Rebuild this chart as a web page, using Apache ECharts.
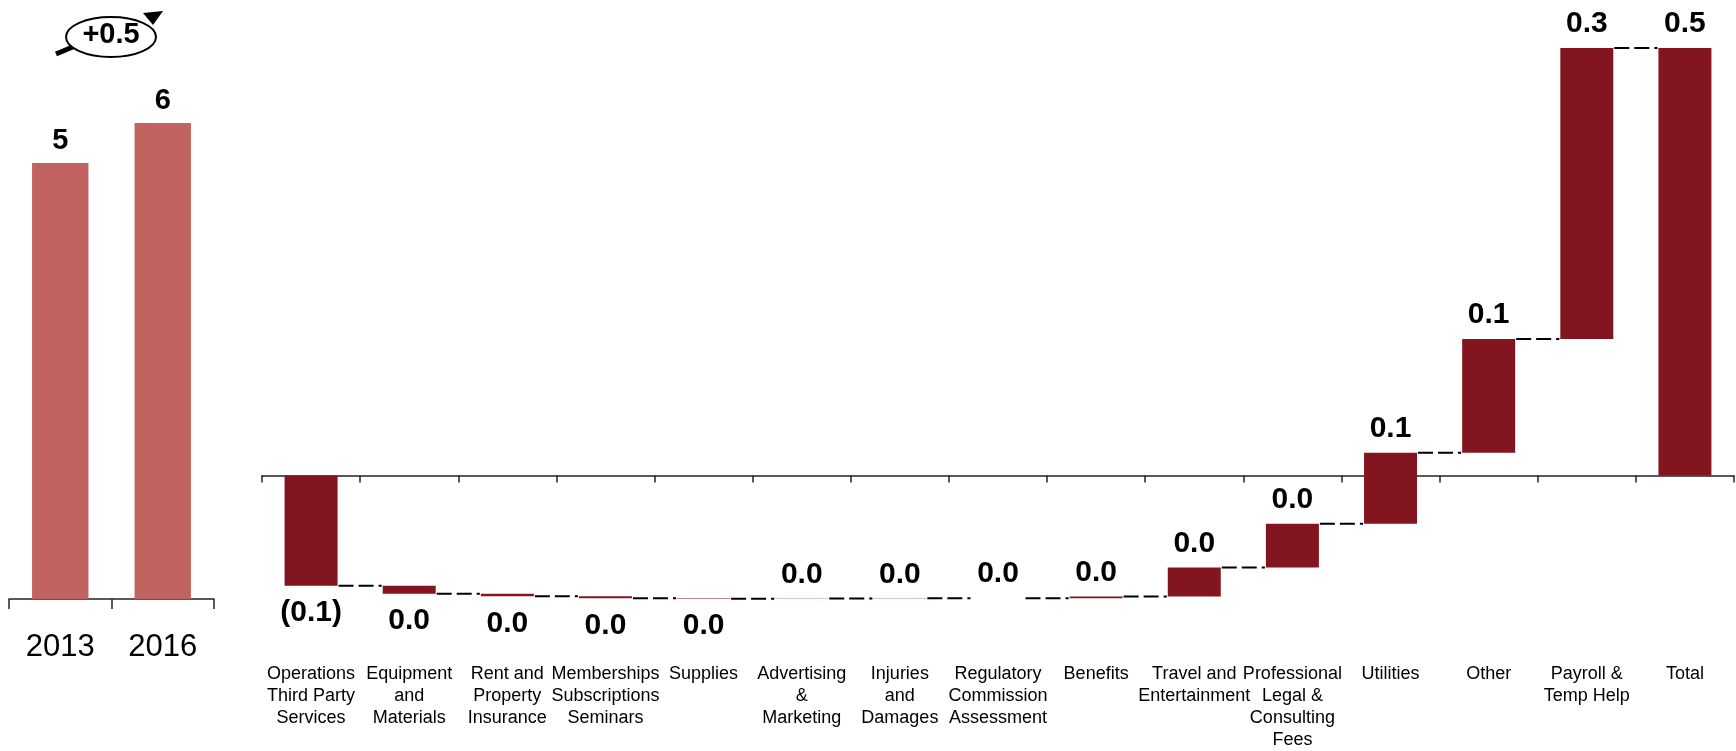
<!DOCTYPE html>
<html>
<head>
<meta charset="utf-8">
<script src="https://cdn.jsdelivr.net/npm/echarts@6/dist/echarts.min.js"></script>
<style>
  html, body { margin: 0; padding: 0; background: #fff; }
  #chart { width: 1736px; height: 751px; }
</style>
</head>
<body>
<div id="chart"></div>
<script>
// Totals by year (left panel)
const years = ['2013', '2016'];
const yearValues = [5.45, 5.95];

// Bridge categories and their changes (right panel); the last category is the computed total
const categories = [
  'Operations\nThird Party\nServices',
  'Equipment\nand\nMaterials',
  'Rent and\nProperty\nInsurance',
  'Memberships\nSubscriptions\nSeminars',
  'Supplies',
  'Advertising\n&\nMarketing',
  'Injuries\nand\nDamages',
  'Regulatory\nCommission\nAssessment',
  'Benefits',
  'Travel and\nEntertainment',
  'Professional\nLegal &\nConsulting\nFees',
  'Utilities',
  'Other',
  'Payroll &\nTemp Help',
  'Total'
];
const deltas = [-0.12, -0.0087, -0.0027, -0.0022, -0.0004, 0.0002, 0.0002, 0.0002, 0.0018, 0.0315, 0.0478, 0.077, 0.124, 0.3165];

const FONT = '"Liberation Sans", Arial, Helvetica, sans-serif';
const BAR_DARK = '#82151F';
const BAR_LIGHT = '#C06361';

// Build floating steps: [index, start, end, change]
let running = 0;
const steps = [];
deltas.forEach((d, i) => {
  steps.push([i, running, running + d, d]);
  running += d;
});
const total = running;
steps.push([deltas.length, 0, total, total]);
// Connector levels between consecutive bars
const links = steps.slice(0, -1).map((s, i) => [i, s[2]]);

function fmt(v) {
  const r = Math.round(v * 10) / 10;
  return r < 0 ? '(' + (-r).toFixed(1) + ')' : Math.abs(r).toFixed(1);
}

const BAR_RATIO = 0.54;
const change = yearValues[1] - yearValues[0];

const chart = echarts.init(document.getElementById('chart'), null, { renderer: 'canvas' });

chart.setOption({
  animation: false,
  backgroundColor: '#fff',
  textStyle: { fontFamily: FONT },
  grid: [
    { left: 9, width: 205, top: 39, height: 560 },
    { left: 262, right: 2, top: 43.6, height: 598 }
  ],
  xAxis: [
    {
      gridIndex: 0, type: 'category', data: years,
      axisLine: { show: true, lineStyle: { color: '#222', width: 1.5 } },
      axisTick: { show: true, length: 10, lineStyle: { color: '#222', width: 1.5 } },
      axisLabel: { fontSize: 31, color: '#000', margin: 33, fontFamily: FONT }
    },
    {
      gridIndex: 1, type: 'category', data: categories, position: 'bottom',
      axisLine: { show: true, onZero: true, lineStyle: { color: '#222', width: 1.5 } },
      axisTick: { show: true, length: 7, lineStyle: { color: '#222', width: 1.5 } },
      axisLabel: { show: false }
    },
    {
      gridIndex: 1, type: 'category', data: categories, position: 'bottom',
      axisLine: { show: false, onZero: false },
      axisTick: { show: false },
      axisLabel: {
        interval: 0, fontSize: 18, lineHeight: 22, color: '#000',
        margin: 22, fontFamily: FONT, align: 'center'
      }
    }
  ],
  yAxis: [
    { gridIndex: 0, type: 'value', min: 0, max: 7, show: false },
    { gridIndex: 1, type: 'value', min: -0.18, max: 0.47, show: false }
  ],
  series: [
    {
      type: 'bar', xAxisIndex: 0, yAxisIndex: 0,
      data: yearValues, barWidth: '55%',
      itemStyle: { color: BAR_LIGHT },
      label: {
        show: true, position: 'top', distance: 8,
        fontSize: 29, fontWeight: 'bold', color: '#000', fontFamily: FONT,
        formatter: p => String(Math.round(p.value))
      }
    },
    {
      type: 'custom', xAxisIndex: 1, yAxisIndex: 1,
      data: steps,
      encode: { x: 0, y: [1, 2] },
      renderItem(params, api) {
        const i = api.value(0), s = api.value(1), e = api.value(2), d = api.value(3);
        const p0 = api.coord([i, s]);
        const p1 = api.coord([i, e]);
        const bw = api.size([1, 0])[0] * BAR_RATIO;
        const top = Math.min(p0[1], p1[1]);
        const bottom = Math.max(p0[1], p1[1]);
        const below = d < 0;
        return {
          type: 'group',
          children: [
            {
              type: 'rect',
              shape: { x: p0[0] - bw / 2, y: top, width: bw, height: bottom - top },
              style: { fill: BAR_DARK }
            },
            {
              type: 'text',
              style: {
                text: fmt(d),
                x: p0[0],
                y: below ? bottom + 27 : top - 24,
                align: 'center', verticalAlign: 'middle',
                fontSize: 30, fontWeight: 'bold', fontFamily: FONT, fill: '#000'
              }
            }
          ]
        };
      }
    },
    {
      type: 'custom', xAxisIndex: 1, yAxisIndex: 1,
      data: links,
      encode: { x: 0, y: 1 },
      renderItem(params, api) {
        const i = api.value(0), level = api.value(1);
        const a = api.coord([i, level]);
        const b = api.coord([i + 1, level]);
        const bw = api.size([1, 0])[0] * BAR_RATIO;
        return {
          type: 'line',
          shape: { x1: a[0] + bw / 2 + 1, y1: a[1], x2: b[0] - bw / 2 - 1, y2: b[1] },
          style: { stroke: '#000', lineWidth: 2, lineDash: [15, 5] }
        };
      }
    }
  ],
  graphic: [
    {
      type: 'line',
      shape: { x1: 56, y1: 54, x2: 75, y2: 46 },
      style: { stroke: '#000', lineWidth: 5 }
    },
    {
      type: 'ellipse',
      shape: { cx: 111, cy: 37, rx: 45, ry: 20 },
      style: { fill: '#fff', stroke: '#000', lineWidth: 2 }
    },
    {
      type: 'polygon',
      shape: { points: [[143, 13], [163, 11], [153, 25]] },
      style: { fill: '#000' }
    },
    {
      type: 'text',
      style: {
        text: (change >= 0 ? '+' : '') + change.toFixed(1),
        x: 111, y: 35, align: 'center', verticalAlign: 'middle',
        fontSize: 29, fontWeight: 'bold', fontFamily: FONT, fill: '#000'
      }
    }
  ]
});
</script>
</body>
</html>
